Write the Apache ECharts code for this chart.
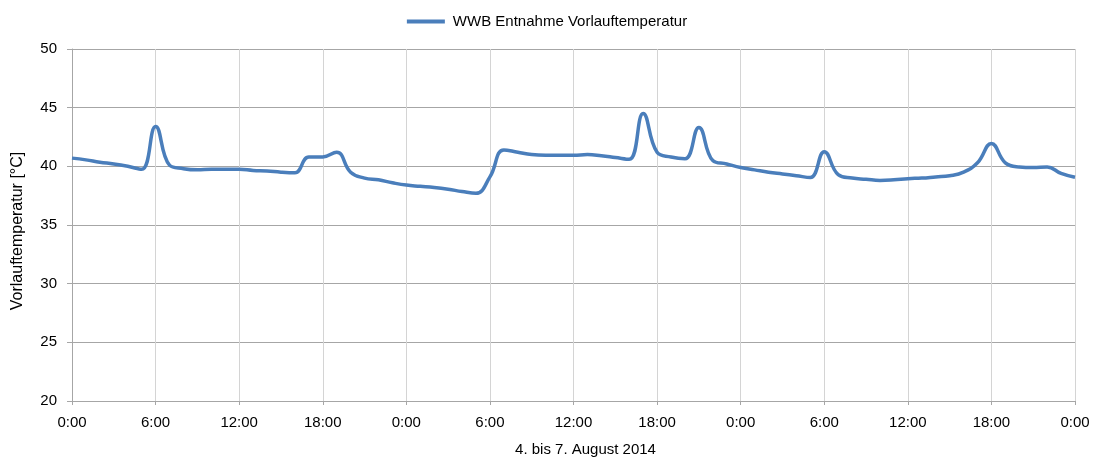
<!DOCTYPE html>
<html>
<head>
<meta charset="utf-8">
<script src="https://cdn.jsdelivr.net/npm/echarts@6/dist/echarts.min.js"></script>
<style>
  html, body { margin: 0; padding: 0; background: #fff; }
  #chart { width: 1094px; height: 459px; }
</style>
</head>
<body>
<div id="chart"></div>
<script>
// Hours since 4 August 2014, 0:00
const hours = [];
for (let h = 0; h <= 72; h++) hours.push(h);

// Flow temperature at the WWB tap, °C, one reading per hour
const vorlauf = [
  40.7, 40.55, 40.35, 40.2, 40.0, 39.75, 43.4, 40.1, 39.8, 39.7,
  39.75, 39.75, 39.75, 39.65, 39.6, 39.5, 39.45, 40.8, 40.8, 41.2,
  39.5, 39.0, 38.85, 38.6, 38.4, 38.3, 38.2, 38.05, 37.85, 37.7,
  39.1, 41.4, 41.2, 41.0, 40.95, 40.95, 40.95, 41.0, 40.9, 40.75,
  40.6, 44.5, 41.2, 40.8, 40.65, 43.3, 40.5, 40.2, 39.9, 39.7,
  39.5, 39.35, 39.2, 39.05, 41.25, 39.3, 39.0, 38.9, 38.8, 38.85,
  38.95, 39.0, 39.1, 39.2, 39.5, 40.3, 41.95, 40.3, 39.95, 39.9,
  39.95, 39.4, 39.07
];

const seriesName = 'WWB Entnahme Vorlauftemperatur';
const yAxisTitle = 'Vorlauftemperatur [°C]';
const xAxisTitle = '4. bis 7. August 2014';

const font = '"Liberation Sans", Arial, sans-serif';
const chart = echarts.init(document.getElementById('chart'), null, { renderer: 'canvas' });

chart.setOption({
  animation: false,
  backgroundColor: '#ffffff',
  textStyle: { fontFamily: font, color: '#000' },
  legend: {
    top: 9,
    left: 'center',
    itemWidth: 38,
    itemHeight: 4,
    itemGap: 4,
    icon: 'rect',
    textStyle: { fontFamily: font, fontSize: 15, color: '#000', padding: [0, 0, 0, 3] },
    data: [seriesName]
  },
  grid: { left: 72, right: 19, top: 49, bottom: 58, containLabel: false, outerBoundsMode: 'none' },
  xAxis: {
    type: 'value',
    min: 0,
    max: 72,
    interval: 6,
    name: xAxisTitle,
    nameLocation: 'middle',
    nameGap: 41,
    nameTextStyle: { fontFamily: font, fontSize: 15, color: '#000', padding: [0, 0, 0, 24] },
    axisLine: { show: true, lineStyle: { color: '#a6a6a6', width: 1 } },
    axisTick: { show: true, length: 4, lineStyle: { color: '#a6a6a6' } },
    axisLabel: {
      fontFamily: font, fontSize: 15, color: '#000', margin: 14,
      formatter: v => (v % 24) + ':00'
    },
    splitLine: { show: true, lineStyle: { color: '#d4d4d4', width: 1 } }
  },
  yAxis: {
    type: 'value',
    min: 20,
    max: 50,
    interval: 5,
    name: yAxisTitle,
    nameLocation: 'middle',
    nameGap: 46,
    nameRotate: 90,
    nameTextStyle: { fontFamily: font, fontSize: 16, color: '#000', padding: [0, 12, 0, 0] },
    axisLine: { show: true, lineStyle: { color: '#a6a6a6', width: 1 } },
    axisTick: { show: true, length: 5, lineStyle: { color: '#a6a6a6' } },
    axisLabel: { fontFamily: font, fontSize: 15, color: '#000', margin: 15 },
    splitLine: { show: true, lineStyle: { color: '#a6a6a6', width: 1 } }
  },
  series: [{
    name: seriesName,
    type: 'line',
    data: hours.map((h, i) => [h, vorlauf[i]]),
    smooth: 0.45,
    showSymbol: false,
    lineStyle: { color: '#4a7ebb', width: 3.5 },
    itemStyle: { color: '#4a7ebb' }
  }]
});
</script>
</body>
</html>
